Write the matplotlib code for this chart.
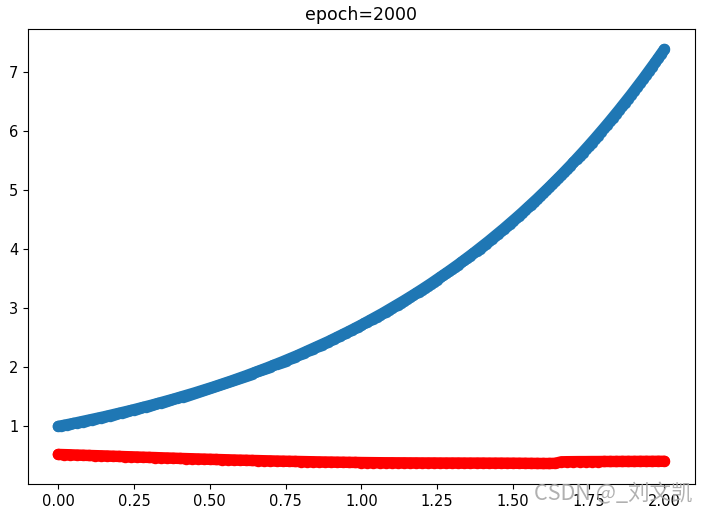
import numpy as np
import matplotlib
matplotlib.use("Agg")
import matplotlib.pyplot as plt

# ---- data ----
x_true_start, x_true_end, n_true = 0.0, 2.0, 201
y_true = [
    1.000, 1.010, 1.020, 1.030, 1.041, 1.051, 1.062, 1.073, 1.083, 1.094,
    1.105, 1.116, 1.127, 1.139, 1.150, 1.162, 1.174, 1.185, 1.197, 1.209,
    1.221, 1.234, 1.246, 1.259, 1.271, 1.284, 1.297, 1.310, 1.323, 1.336,
    1.350, 1.363, 1.377, 1.391, 1.405, 1.419, 1.433, 1.448, 1.462, 1.477,
    1.492, 1.507, 1.522, 1.537, 1.553, 1.568, 1.584, 1.600, 1.616, 1.632,
    1.649, 1.665, 1.682, 1.699, 1.716, 1.733, 1.751, 1.768, 1.786, 1.804,
    1.822, 1.840, 1.859, 1.878, 1.896, 1.916, 1.935, 1.954, 1.974, 1.994,
    2.014, 2.034, 2.054, 2.075, 2.096, 2.117, 2.138, 2.160, 2.181, 2.203,
    2.226, 2.248, 2.271, 2.293, 2.316, 2.340, 2.363, 2.387, 2.411, 2.435,
    2.460, 2.484, 2.509, 2.535, 2.560, 2.586, 2.612, 2.638, 2.664, 2.691,
    2.718, 2.746, 2.773, 2.801, 2.829, 2.858, 2.886, 2.915, 2.945, 2.974,
    3.004, 3.034, 3.065, 3.096, 3.127, 3.158, 3.190, 3.222, 3.254, 3.287,
    3.320, 3.353, 3.387, 3.421, 3.456, 3.490, 3.525, 3.561, 3.597, 3.633,
    3.669, 3.706, 3.743, 3.781, 3.819, 3.857, 3.896, 3.935, 3.975, 4.015,
    4.055, 4.096, 4.137, 4.179, 4.221, 4.263, 4.306, 4.349, 4.393, 4.437,
    4.482, 4.527, 4.572, 4.618, 4.665, 4.711, 4.759, 4.807, 4.855, 4.904,
    4.953, 5.003, 5.053, 5.104, 5.155, 5.207, 5.259, 5.312, 5.366, 5.419,
    5.474, 5.529, 5.585, 5.641, 5.697, 5.755, 5.812, 5.871, 5.930, 5.989,
    6.050, 6.110, 6.172, 6.234, 6.297, 6.360, 6.424, 6.488, 6.553, 6.619,
    6.686, 6.753, 6.821, 6.889, 6.959, 7.029, 7.099, 7.171, 7.243, 7.316,
    7.389,
]

x_pred_start, x_pred_end, n_pred = 0.0, 2.0, 101
y_pred = [
    0.525, 0.522, 0.519, 0.515, 0.512, 0.508, 0.505, 0.502, 0.499, 0.495,
    0.492, 0.488, 0.485, 0.482, 0.478, 0.475, 0.472, 0.468, 0.465, 0.462,
    0.458, 0.455, 0.452, 0.449, 0.446, 0.443, 0.440, 0.437, 0.434, 0.431,
    0.428, 0.426, 0.423, 0.421, 0.418, 0.416, 0.413, 0.411, 0.409, 0.407,
    0.405, 0.403, 0.401, 0.399, 0.397, 0.396, 0.394, 0.393, 0.391, 0.390,
    0.388, 0.387, 0.386, 0.385, 0.384, 0.384, 0.383, 0.383, 0.382, 0.382,
    0.381, 0.381, 0.381, 0.380, 0.380, 0.380, 0.380, 0.379, 0.379, 0.379,
    0.379, 0.378, 0.378, 0.378, 0.377, 0.377, 0.376, 0.375, 0.374, 0.373,
    0.372, 0.372, 0.375, 0.400, 0.402, 0.403, 0.404, 0.404, 0.405, 0.405,
    0.406, 0.406, 0.406, 0.407, 0.407, 0.407, 0.408, 0.408, 0.408, 0.409,
    0.409,
]

title_text = "epoch=2000"
watermark = "CSDN @_刘文凯"

x_true = np.linspace(x_true_start, x_true_end, n_true)
x_pred = np.linspace(x_pred_start, x_pred_end, n_pred)

# ---- figure ----
fig = plt.figure(figsize=(7.01, 5.14), dpi=100)
ax = fig.add_axes([0.040, 0.058, 0.951, 0.886])

msize = 68
band = np.sqrt(msize)
ax.plot(x_true, y_true, color="#1f77b4", lw=band, solid_capstyle="round")
ax.scatter(x_true, y_true, s=msize, color="#1f77b4", linewidths=0)
ax.plot(x_pred, y_pred, color="red", lw=band, solid_capstyle="round")
ax.scatter(x_pred, y_pred, s=msize, color="red", linewidths=0)

ax.set_title(title_text, fontsize=12.5)
ax.tick_params(labelsize=10.5)
ax.set_xticks([0.0, 0.25, 0.5, 0.75, 1.0, 1.25, 1.5, 1.75, 2.0])
ax.set_xticklabels(["0.00", "0.25", "0.50", "0.75", "1.00", "1.25", "1.50", "1.75", "2.00"])

fig.text(534 / 701, 1 - 494 / 514, watermark, fontsize=15.5, color="#a8a8a8",
         alpha=0.9, va="center", ha="left",
         family=["Noto Sans CJK SC", "DejaVu Sans"])

fig.savefig("out.png", dpi=100)
